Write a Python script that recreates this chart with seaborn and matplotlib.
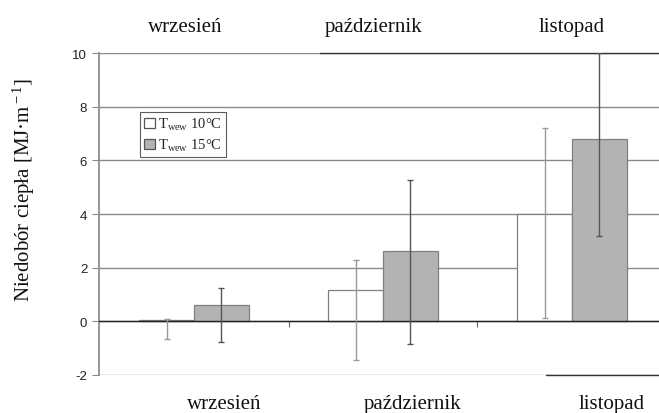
import matplotlib
matplotlib.use("Agg")
import matplotlib.pyplot as plt
import seaborn as sns
import pandas as pd
import numpy as np

months = ["wrzesień", "październik", "listopad"]
series = [r"T$_{\rm wew}$ 10°C", r"T$_{\rm wew}$ 15°C"]
vals_10 = [0.05, 1.15, 4.0]
vals_15 = [0.62, 2.63, 6.78]
lo_10 = [-0.65, -1.45, 0.12]
hi_10 = [0.10, 2.27, 7.20]
lo_15 = [-0.76, -0.83, 3.17]
hi_15 = [1.25, 5.25, 10.0]
yticks = [-2, 0, 2, 4, 6, 8, 10]
top_label_x = [185, 374, 572]
bottom_label_x = [224, 413, 612]

df = pd.DataFrame({
    "month": months * 2,
    "series": [series[0]] * 3 + [series[1]] * 3,
    "value": vals_10 + vals_15,
})

sns.set_theme(style="white")
plt.rcParams["font.family"] = ["Liberation Serif", "DejaVu Serif"]
plt.rcParams["mathtext.fontset"] = "custom"
plt.rcParams["mathtext.rm"] = "Liberation Serif"
plt.rcParams["mathtext.it"] = "Liberation Serif:italic"

W, H = 659, 414
fig = plt.figure(figsize=(W / 100, H / 100), dpi=100)
ax = fig.add_axes([99 / W, 1 - 376 / H, 1 - 99 / W, (376 - 54) / H])

sns.barplot(data=df, x="month", y="value", hue="series", order=months,
            hue_order=series, palette=["white", "#b3b3b3"], width=0.577,
            edgecolor="#808080", linewidth=0.9, errorbar=None, ax=ax, zorder=2)

err_colors = ["#9a9a9a", "#555555"]
for cont, lo, hi, vals, ec in zip(ax.containers, [lo_10, lo_15], [hi_10, hi_15],
                                   [vals_10, vals_15], err_colors):
    xs = [p.get_x() + p.get_width() / 2 for p in cont.patches]
    v = np.array(vals)
    yerr = [v - np.array(lo), np.array(hi) - v]
    ax.errorbar(xs, v, yerr=yerr, fmt="none", ecolor=ec, elinewidth=1.0,
                capsize=2.5, capthick=1.0, zorder=3)

ax.set_ylim(-2, 10)
ax.set_xlim((99 - 194) / 189, (659 - 194) / 189)
ax.set_yticks(yticks)
ax.set_yticklabels([str(t) for t in yticks], family="Liberation Sans", fontsize=9.5, color="#222222")
ax.yaxis.grid(True, color="#8a8a8a", linewidth=1.0, zorder=0)
ax.set_axisbelow(True)

# zero line as bottom spine with separator ticks
ax.spines["bottom"].set_position(("data", 0))
ax.spines["bottom"].set_color("#222222")
ax.spines["bottom"].set_linewidth(1.0)
ax.set_xticks([0.5, 1.5])
ax.set_xticklabels(["", ""])
ax.tick_params(axis="x", direction="out", length=4, width=0.8, color="#666666", bottom=True)
ax.tick_params(axis="y", direction="out", length=5, width=0.8, color="#8a8a8a", left=True)
ax.spines["left"].set_color("#8a8a8a")
ax.spines["top"].set_visible(False)
ax.spines["right"].set_visible(False)
ax.set_xlabel("")
ax.set_ylabel("")

# darker segments on top and bottom grid lines
ax.axhline(10, xmin=(320 - 99) / 560, xmax=1, color="#333333", linewidth=1.0, zorder=1, clip_on=False)
ax.axhline(-2, xmin=(546 - 99) / 560, xmax=1, color="#333333", linewidth=1.0, zorder=1, clip_on=False)

leg = ax.legend(loc="upper left", bbox_to_anchor=((140 - 99) / 560, (376 - 113) / 322),
                borderaxespad=0, frameon=True, fancybox=False, fontsize=10.5,
                handlelength=0.7, handleheight=0.7, handletextpad=0.25,
                borderpad=0.3, labelspacing=0.3, title=None)
leg.get_frame().set_edgecolor("#333333")
leg.get_frame().set_linewidth(0.8)
for h in leg.legend_handles:
    h.set_edgecolor("#555555")

for m, x in zip(months, top_label_x):
    fig.text(x / W, 1 - 32 / H, m, ha="center", va="baseline", fontsize=15, color="#111111")
for m, x in zip(months, bottom_label_x):
    fig.text(x / W, 1 - 409 / H, m, ha="center", va="baseline", fontsize=15, color="#111111")

fig.text(24 / W, 1 - 190 / H, r"Niedobór ciepła [MJ·m$^{\rm -1}$]", rotation=90,
         ha="center", va="center", fontsize=15, color="#111111")

fig.savefig("out.png", dpi=100)
